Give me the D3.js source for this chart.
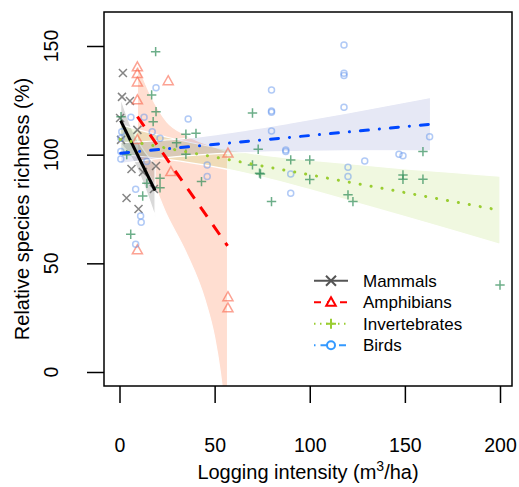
<!DOCTYPE html>
<html>
<head>
<meta charset="utf-8">
<script src="https://cdn.jsdelivr.net/npm/d3@7"></script>
<style>
  body { margin: 0; background: #fff; }
  text { font-family: "Liberation Sans", Arial, sans-serif; }
</style>
</head>
<body>
<div id="container"></div>
<script>
// ---- data (x = m3/ha, y = %) ----
const seriesNames = ["Mammals", "Amphibians", "Invertebrates", "Birds"];

const mammals = [[1.8,137.6],[1.3,126.6],[5.5,124.7],[9.4,111.4],[0.8,106.8],[0.3,116.9],
  [6.3,93.4],[12.3,92.0],[19.2,94.8],[18.1,84.2],[3.7,80.1],[10.0,75.0]];

const amphibians = [[9.4,140.3],[9.4,137.2],[9.4,133.3],[25.6,133.9],[9.4,125.1],[9.4,106.8],
  [27,92.1],[9.4,56.1],[57,100.6],[57,34.5],[57,29.4]];

const invertebrates = [[19.0,147.4],[16.9,127.5],[19.2,119.8],[17.7,115.2],[0.8,117.5],[34.9,109.4],
  [40.2,109.8],[30.0,105.5],[34.9,100.2],[3.8,100.0],[43.1,87.6],[21.3,89.1],[21.3,84.8],
  [14.4,86.8],[12.2,81.0],[5.9,63.4],[69.9,119.2],[72.9,102.5],[90.0,97.6],[100.0,97.6],
  [69.9,95.3],[74.1,91.1],[73.6,91.5],[100.0,88.6],[79.9,78.4],[120.1,81.5],[122.7,78.4],
  [159.5,101.4],[149.0,90.7],[149.0,88.7],[159.5,88.7],[200,40.0]];

const birds = [[19.2,130.8],[6.0,117.2],[12.9,117.2],[36.1,116.4],[17.2,110.6],[21.3,107.5],
  [1.2,110.6],[0.7,107.5],[0.7,101.4],[0.7,98.0],[8.5,84.1],[11.1,71.8],[11.4,68.9],[8.5,58.8],
  [46.1,95.3],[46.1,89.9],[14.3,96.8],[79.9,129.8],[79.9,120.1],[79.9,119.5],[79.9,110.9],
  [118.0,150.5],[118.0,137.5],[118.0,136.4],[118.0,121.8],[87.4,102.2],[87.4,101.4],
  [128.9,97.1],[120.1,94.2],[120.1,89.9],[90.0,91.1],[90.0,82.2],[146.9,100.2],[149.0,99.5],
  [163.0,108.3]];

// fitted lines (start, end)
const mammalFit = [[0.6,115.7],[18.7,83.5]];
const amphibianFit = [[9.4,117.5],[56.8,58.0]];
const invertebrateFit = [[0.3,107.0],[200,74.4]];
const birdFit = [[0.6,100.7],[163.5,114.0]];

// confidence bands [x, lower, upper]
const mammalBand = [[0.6,105.2,126.2],[4,101.6,117.6],[8,96,109],[12,87.9,102.9],[15.5,79.7,98.7],[18.7,71.5,95.5]];
const amphibianBand = [[9.4,97,142],[16,90,128],[25,72,115],[35,55,109],[45,33,105],[50,16,103.5],[53,0,102.5],[56.8,-30,101]];
const invertebrateBand = [[0.3,100.2,113.8],[25,97.8,108],[50,94.4,103.4],[75,89.7,99.9],[100,83.9,97.5],
  [125,77.7,95.5],[150,71.5,93.5],[175,65.2,91.8],[200,58.7,90.1]];
const birdBand = [[0.6,95.9,105.5],[30,99.1,107.1],[60,100.8,110.4],[90,101.4,114.6],[120,101.8,119.2],[163.5,101.7,126.3]];

const xTicks = [0, 50, 100, 150, 200];
const yTicks = [0, 50, 100, 150];

// ---- layout ----
const W = 519, H = 487;
const box = {left: 104, right: 512, top: 12, bottom: 386};

const x = d3.scaleLinear().domain([0, 200]).range([119.5, 500]);
const y = d3.scaleLinear().domain([0, 150]).range([372, 46]);

const style = {
  Mammals:       {shape: "x",      pt: "rgba(80,80,80,0.7)",    fit: "#000",    dash: null,          cap: "butt",
                  band: "grey", bandOp: 0.3,   leg: "#555",    legDash: null},
  Amphibians:    {shape: "tri",    pt: "rgba(250,100,75,0.6)",  fit: "#ff0000", dash: "12,10",       cap: "butt",
                  band: "lightsalmon", bandOp: 0.35, leg: "#ff0000", legDash: "7,6"},
  Invertebrates: {shape: "plus",   pt: "rgba(46,139,87,0.7)",   fit: "#9acd32", dash: "0.1,11",      cap: "round",
                  band: "yellowgreen", bandOp: 0.15, leg: "#9acd32", legDash: "1.5,4.5"},
  Birds:         {shape: "circle", pt: "rgba(100,149,237,0.5)", fit: "#0047ff", dash: "8,11,0.1,11", cap: "round",
                  band: "#3f51b5", bandOp: 0.13, leg: "#3399ff", legDash: "1.5,5,7,5"}
};

const series = {
  Mammals: {pts: mammals, fit: mammalFit, band: mammalBand},
  Amphibians: {pts: amphibians, fit: amphibianFit, band: amphibianBand},
  Invertebrates: {pts: invertebrates, fit: invertebrateFit, band: invertebrateBand},
  Birds: {pts: birds, fit: birdFit, band: birdBand}
};

function marker(shape, s) {
  if (shape === "x") return `M${-s},${-s}L${s},${s}M${-s},${s}L${s},${-s}`;
  if (shape === "plus") return `M${-s},0H${s}M0,${-s}V${s}`;
  if (shape === "tri") return `M0,${-s}L${s*0.95},${s*0.7}L${-s*0.95},${s*0.7}Z`;
  return d3.arc()({innerRadius: 0, outerRadius: s, startAngle: 0, endAngle: 2 * Math.PI});
}
const markerSize = {x: 4, plus: 4.7, tri: 5.3, circle: 3};

const svg = d3.select("#container").append("svg")
  .attr("width", W).attr("height", H);

svg.append("clipPath").attr("id", "plotclip")
  .append("rect")
  .attr("x", box.left).attr("y", box.top)
  .attr("width", box.right - box.left).attr("height", box.bottom - box.top);

const plot = svg.append("g").attr("clip-path", "url(#plotclip)");

// bands
const area = d3.area()
  .x(d => x(d[0])).y0(d => y(d[1])).y1(d => y(d[2]))
  .curve(d3.curveMonotoneX);

["Amphibians", "Mammals", "Invertebrates", "Birds"].forEach(k => {
  plot.append("path")
    .attr("d", area(series[k].band))
    .attr("fill", style[k].band)
    .attr("fill-opacity", style[k].bandOp)
    .attr("stroke", "#fff")
    .attr("stroke-width", 1.2);
});

// points
seriesNames.forEach(k => {
  const st = style[k];
  plot.append("g").selectAll("path")
    .data(series[k].pts)
    .enter().append("path")
    .attr("transform", d => `translate(${x(d[0])},${y(d[1])})`)
    .attr("d", marker(st.shape, markerSize[st.shape]))
    .attr("fill", "none")
    .attr("stroke", st.pt)
    .attr("stroke-width", 1.5);
});

// fitted lines
const line = d3.line().x(d => x(d[0])).y(d => y(d[1]));
seriesNames.forEach(k => {
  const st = style[k];
  plot.append("path")
    .attr("d", line(series[k].fit))
    .attr("fill", "none")
    .attr("stroke", st.fit)
    .attr("stroke-width", 3)
    .attr("stroke-linecap", st.cap)
    .attr("stroke-dasharray", st.dash);
});

// box
svg.append("rect")
  .attr("x", box.left).attr("y", box.top)
  .attr("width", box.right - box.left).attr("height", box.bottom - box.top)
  .attr("fill", "none").attr("stroke", "#000").attr("stroke-width", 1.5);

// x axis
const xAxis = svg.append("g")
  .attr("transform", `translate(0,${box.bottom})`)
  .call(d3.axisBottom(x).tickValues(xTicks).tickSize(17).tickPadding(35));
xAxis.select(".domain").remove();
xAxis.selectAll("line").attr("stroke-width", 1.5);
xAxis.selectAll("text").attr("font-size", 19.5).attr("fill", "#000")
  .style("font-family", '"Liberation Sans", Arial, sans-serif');

// y axis
const yAxis = svg.append("g")
  .attr("transform", `translate(${box.left},0)`)
  .call(d3.axisLeft(y).tickValues(yTicks).tickSize(17).tickFormat(""));
yAxis.select(".domain").remove();
yAxis.selectAll("line").attr("stroke-width", 1.5);

svg.append("g").selectAll("text")
  .data(yTicks)
  .enter().append("text")
  .attr("transform", d => `translate(58,${y(d)}) rotate(-90)`)
  .attr("text-anchor", "middle")
  .attr("font-size", 19.5)
  .text(d => d);

// axis titles
const xt = svg.append("text")
  .attr("x", (box.left + box.right) / 2)
  .attr("y", 479)
  .attr("text-anchor", "middle")
  .attr("font-size", 20);
xt.append("tspan").text("Logging intensity (m");
xt.append("tspan").attr("font-size", 14).attr("dy", -8).text("3");
xt.append("tspan").attr("dy", 8).text("/ha)");

svg.append("text")
  .attr("transform", `translate(29,${(box.top + box.bottom) / 2 + 10}) rotate(-90)`)
  .attr("text-anchor", "middle")
  .attr("font-size", 20)
  .text("Relative species richness (%)");

// legend
const legend = svg.append("g");
const legRow = 21.5, legTop = 280.7;
seriesNames.forEach((k, i) => {
  const st = style[k];
  const gy = legTop + i * legRow;
  legend.append("line")
    .attr("x1", 314).attr("x2", 348).attr("y1", gy).attr("y2", gy)
    .attr("stroke", st.leg).attr("stroke-width", 2)
    .attr("stroke-dasharray", st.legDash);
  legend.append("path")
    .attr("transform", `translate(331,${gy})`)
    .attr("d", marker(st.shape, st.shape === "circle" ? 4 : 5))
    .attr("fill", st.shape === "x" ? "none" : "#fff")
    .attr("stroke", st.leg)
    .attr("stroke-width", 2);
  legend.append("text")
    .attr("x", 363).attr("y", gy).attr("dy", "0.36em")
    .attr("font-size", 17)
    .text(k);
});
</script>
</body>
</html>
